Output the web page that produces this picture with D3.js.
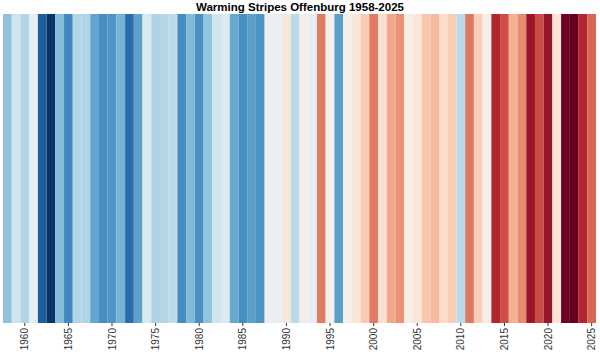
<!DOCTYPE html>
<html>
<head>
<meta charset="utf-8">
<script src="https://cdn.jsdelivr.net/npm/d3@7"></script>
<style>
    body { margin: 0; background: #fff; }
    svg { display: block; }
</style>
</head>
<body>
<div id="stripes"></div>
<script>
// years shown on the chart
var years = d3.range(1958, 2026);

// yearly anomaly, scaled to -1..1
var anomalies = [
    -0.40, -0.20, -0.30, -0.08, -0.83, -0.98, -0.43, -0.64, -0.30, -0.30,
    -0.53, -0.62, -0.59, -0.47, -0.76, -0.54, -0.14, -0.31, -0.29, -0.26,
    -0.63, -0.44, -0.61, -0.39, -0.19, -0.14, -0.51, -0.62, -0.55, -0.60,
    -0.05, -0.05, 0.11, -0.27, 0.04, -0.09, 0.52, 0.02, -0.55, 0.02,
    0.12, 0.25, 0.52, 0.15, 0.38, 0.45, 0.05, 0.12, 0.27, 0.32,
    0.18, 0.25, -0.27, 0.53, 0.24, 0.03, 0.78, 0.65, 0.35, 0.47,
    0.85, 0.66, 0.86, 0.13, 0.99, 1.00, 0.78, 0.58
];

// tick labels on the x axis
var tickYears = [1960, 1965, 1970, 1975, 1980, 1985, 1990, 1995, 2000, 2005, 2010, 2015, 2020, 2025];

var data = years.map(function(y, i) { return { year: y, value: anomalies[i] }; });

var width = 600, height = 352;
var margin = { top: 14, right: 4, bottom: 29, left: 3 };

var svg = d3.select("#stripes")
    .append("svg")
    .attr("width", width)
    .attr("height", height);

var x = d3.scaleBand()
    .domain(years)
    .range([margin.left, width - margin.right])
    .padding(0);

// red = warm, blue = cold
var color = d3.scaleDiverging()
    .domain([-1, 0, 1])
    .interpolator(function(t) { return d3.interpolateRdBu(1 - t); });

svg.selectAll("rect.stripe")
    .data(data)
    .enter()
    .append("rect")
    .attr("class", "stripe")
    .attr("x", function(d) { return x(d.year); })
    .attr("y", margin.top)
    .attr("width", x.bandwidth())
    .attr("height", height - margin.top - margin.bottom)
    .style("fill", function(d) { return color(d.value); });

// x axis, labels turned up
var xAxis = svg.append("g")
    .attr("transform", "translate(0," + (height - margin.bottom) + ")")
    .call(d3.axisBottom(x).tickValues(tickYears).tickSize(3).tickPadding(3));

xAxis.select(".domain").remove();
xAxis.selectAll(".tick line").style("stroke", "#333");
xAxis.selectAll(".tick text")
    .attr("transform", "rotate(-90)")
    .attr("x", -5)
    .attr("y", 0)
    .attr("dy", "0.35em")
    .style("text-anchor", "end")
    .style("font-family", "Liberation Sans, Arial, sans-serif")
    .style("font-size", "10px")
    .style("fill", "#333");

svg.append("text")
    .attr("x", width / 2)
    .attr("y", 11)
    .style("text-anchor", "middle")
    .style("font-family", "Liberation Sans, Arial, sans-serif")
    .style("font-size", "11.5px")
    .style("font-weight", "bold")
    .text("Warming Stripes Offenburg 1958-2025");
</script>
</body>
</html>
